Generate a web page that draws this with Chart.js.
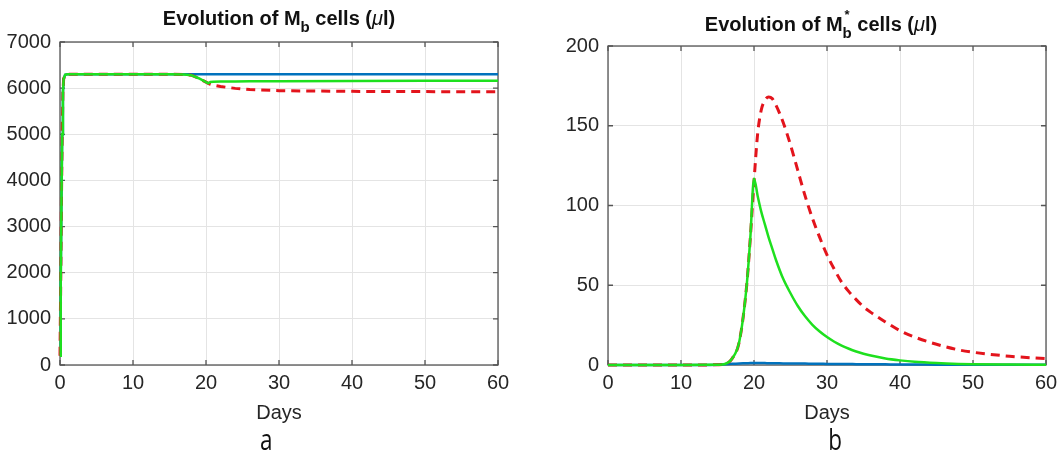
<!DOCTYPE html>
<html>
<head>
<meta charset="utf-8">
<script src="https://cdn.jsdelivr.net/npm/chart.js@4.4.1/dist/chart.umd.min.js"></script>
<style>
  html, body { margin: 0; padding: 0; background: #fff; }
  body { width: 1064px; height: 458px; position: relative; overflow: hidden; font-family: "Liberation Sans", Arial, sans-serif; }
  .box { position: absolute; top: 0; width: 532px; height: 458px; }
  .title { position: absolute; font-weight: bold; font-size: 20px; line-height: 20px; color: #111; text-align: center; white-space: nowrap; }
  .title .mu { font-weight: normal; font-style: italic; }
  .sb { font-size: 15px; position: relative; top: 7px; }
  .stack { position: relative; display: inline-block; }
  .sp { position: absolute; left: 2px; top: -9px; font-size: 13px; }
  .panel { position: absolute; top: 424px; font-family: "Open Sans", sans-serif; font-size: 30px; line-height: 30px; color: #111; transform: scaleX(0.75); }
</style>
</head>
<body>
<div class="box" style="left:0"><canvas id="chartA"></canvas></div>
<div class="box" style="left:532px"><canvas id="chartB"></canvas></div>
<div class="title" style="left:0; width:558px; top:8px">Evolution of M<span class="sb">b</span> cells (<span class="mu">μ</span>l)</div>
<div class="title" style="left:532px; width:578px; top:14px">Evolution of M<span class="stack"><span class="sp">*</span><span class="sb">b</span></span> cells (<span class="mu">μ</span>l)</div>
<div class="panel" style="left:258px">a</div>
<div class="panel" style="left:826px">b</div>
<script>
// panel a: M_b cells
const daysA = [0, 0.1, 0.2, 0.3, 0.4, 0.5, 0.7, 1, 5, 10, 15, 17, 18, 19, 20, 20.3, 20.6, 21, 22, 24, 26, 30, 40, 50, 60];
const mbBlue = [200, 1800, 3600, 5000, 5900, 6200, 6290, 6300, 6300, 6300, 6300, 6300, 6300, 6300, 6300, 6300, 6300, 6300, 6300, 6300, 6300, 6300, 6300, 6300, 6300];
const mbGreen = [200, 1800, 3600, 5000, 5900, 6200, 6290, 6300, 6300, 6300, 6300, 6295, 6280, 6215, 6130, 6105, 6135, 6140, 6142, 6145, 6147, 6150, 6155, 6158, 6160];
const mbRed = [200, 1800, 3600, 5000, 5900, 6200, 6290, 6300, 6300, 6300, 6300, 6295, 6280, 6215, 6130, 6105, 6085, 6065, 6035, 5995, 5968, 5945, 5930, 5925, 5920];

// panel b: M_b* cells
const daysB = [0, 5, 10, 14, 15, 16, 17, 18, 19, 19.5, 20, 20.5, 21, 21.5, 22, 22.5, 23, 24, 25, 26, 27, 28, 29, 30, 31, 32, 33, 34, 35, 36, 38, 40, 42, 45, 48, 50, 55, 60];
const mbsBlue = [0, 0, 0, 0, 0.1, 0.5, 0.8, 1, 1.1, 1.2, 1.2, 1.2, 1.2, 1.2, 1.1, 1.1, 1.1, 1, 1, 0.9, 0.9, 0.8, 0.8, 0.7, 0.7, 0.6, 0.6, 0.5, 0.5, 0.5, 0.4, 0.3, 0.3, 0.2, 0.2, 0.1, 0.1, 0.1];
const mbsGreen = [0, 0, 0, 0.1, 0.2, 0.6, 4, 15, 50, 80, 117, 106, 96, 88, 80, 73, 66, 54, 45, 37, 30.5, 25.2, 21, 17.5, 14.6, 12.2, 10.2, 8.5, 7.1, 5.9, 4.1, 2.9, 2, 1.2, 0.7, 0.5, 0.3, 0.2];
const mbsRed = [0, 0, 0, 0.1, 0.2, 0.6, 4, 15, 50, 80, 115, 145, 160, 166, 168, 167, 163, 152, 138, 122, 106, 92, 80, 69, 60, 52, 46, 41, 36.5, 33, 27, 21.5, 17.5, 13, 9.5, 8, 5.5, 4];

const BLUE = "#0072bd";
const GREEN = "#1ee01e";
const RED = "#e3141c";

Chart.defaults.font.family = '"Liberation Sans", Arial, sans-serif';
Chart.defaults.color = "#262626";

const pts = (xs, ys) => xs.map((x, i) => ({ x: x, y: ys[i] }));

// matlab-like box with inward ticks
const boxPlugin = {
  id: "box",
  beforeDatasetsDraw(chart) {
    const { ctx, chartArea: a, scales } = chart;
    ctx.save();
    ctx.strokeStyle = "#555";
    ctx.lineWidth = 1.3;
    ctx.strokeRect(a.left, a.top, a.right - a.left, a.bottom - a.top);
    ctx.beginPath();
    scales.x.ticks.forEach(t => {
      const px = scales.x.getPixelForValue(t.value);
      ctx.moveTo(px, a.bottom); ctx.lineTo(px, a.bottom - 5);
      ctx.moveTo(px, a.top); ctx.lineTo(px, a.top + 5);
    });
    scales.y.ticks.forEach(t => {
      const py = scales.y.getPixelForValue(t.value);
      ctx.moveTo(a.left, py); ctx.lineTo(a.left + 5, py);
      ctx.moveTo(a.right, py); ctx.lineTo(a.right - 5, py);
    });
    ctx.stroke();
    ctx.restore();
  }
};

function makeChart(id, xs, blue, red, green, yMax, yStep, pad, yWidth, smooth) {
  const line = {
    pointRadius: 0,
    fill: false,
    clip: 4,
    tension: 0,
    cubicInterpolationMode: smooth ? "monotone" : "default"
  };
  return new Chart(document.getElementById(id).getContext("2d"), {
    type: "line",
    data: {
      datasets: [
        Object.assign({ label: "green", data: pts(xs, green), borderColor: GREEN, borderWidth: 2.5, order: 1 }, line),
        Object.assign({ label: "red", data: pts(xs, red), borderColor: RED, borderWidth: 3, borderDash: [9, 6], order: 2 }, line),
        Object.assign({ label: "blue", data: pts(xs, blue), borderColor: BLUE, borderWidth: 2.5, order: 3 }, line)
      ]
    },
    options: {
      responsive: true,
      maintainAspectRatio: false,
      animation: false,
      events: [],
      layout: { padding: pad },
      plugins: { legend: { display: false }, tooltip: { enabled: false }, title: { display: false } },
      scales: {
        x: {
          type: "linear",
          min: 0,
          max: 60,
          grid: { color: "#e4e4e4", lineWidth: 1, drawTicks: false },
          border: { display: false },
          ticks: { stepSize: 10, autoSkip: false, maxRotation: 0, padding: 6, font: { size: 20 }, callback: v => String(v) },
          title: { display: true, text: "Days", font: { size: 20 }, padding: 0 },
          afterFit: s => { s.height = 60; }
        },
        y: {
          min: 0,
          max: yMax,
          grid: { color: "#e4e4e4", lineWidth: 1, drawTicks: false },
          border: { display: false },
          ticks: { stepSize: yStep, padding: 9, font: { size: 20 }, callback: v => String(v) },
          afterFit: s => { s.width = yWidth; }
        }
      }
    },
    plugins: [boxPlugin]
  });
}

makeChart("chartA", daysA, mbBlue, mbRed, mbGreen, 7000, 1000, { left: 0, top: 42, right: 34, bottom: 33 }, 60, false);
makeChart("chartB", daysB, mbsBlue, mbsRed, mbsGreen, 200, 50, { left: 0, top: 46, right: 18, bottom: 33 }, 76, true);
</script>
</body>
</html>
